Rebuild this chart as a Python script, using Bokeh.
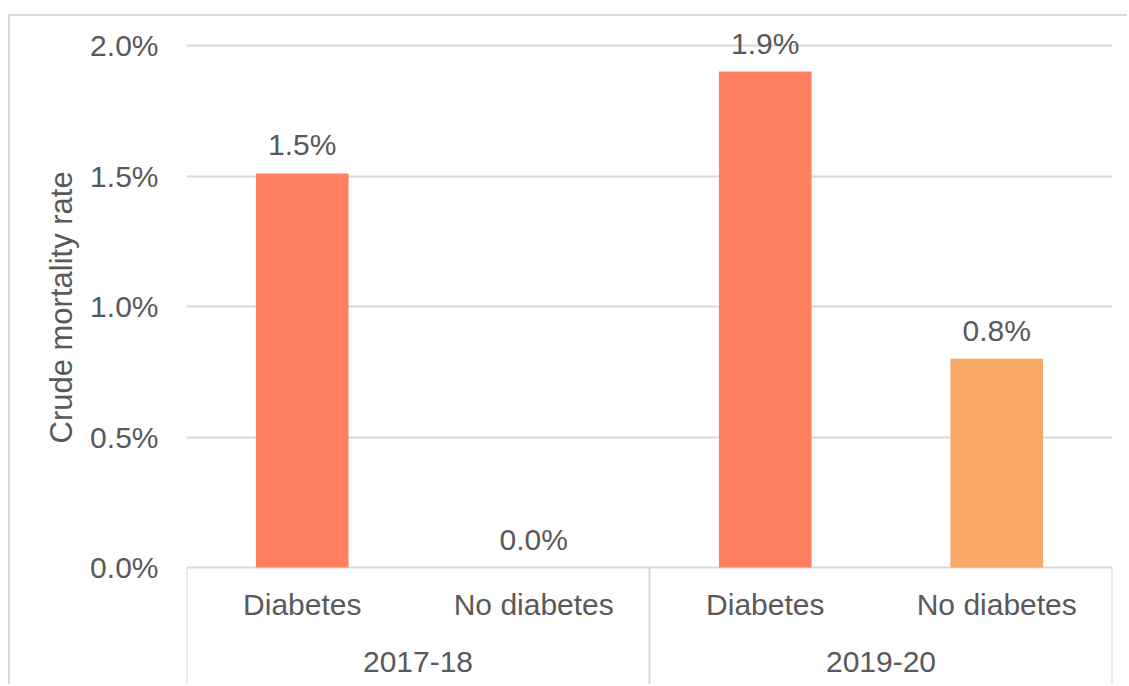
from bokeh.plotting import figure
from bokeh.models import (ColumnDataSource, FactorRange, FixedTicker, NumeralTickFormatter,
                          LabelSet, Range1d, Title)
from bokeh.core.properties import value
from bokeh.embed import file_html
from bokeh.resources import INLINE

# ---- data ----
periods = ["2017-18", "2017-18", "2019-20", "2019-20"]
groups = ["Diabetes", "No diabetes", "Diabetes", "No diabetes"]
rates = [0.0151, 0.0, 0.0190, 0.0080]
rate_labels = ["1.5%", "0.0%", "1.9%", "0.8%"]
bar_colors = ["#FF7F5F", "#FF7F5F", "#FF7F5F", "#F9A866"]
period_names = ["2017-18", "2019-20"]
y_ticks = [0.0, 0.005, 0.010, 0.015, 0.020]
y_title = "Crude mortality rate"

TEXT = "#595959"
GRID = "#D9D9D9"
FONT = "Liberation Sans"

factors = list(zip(periods, groups))
source = ColumnDataSource(dict(x=factors, top=rates, label=rate_labels, color=bar_colors))

PX = 26100.0  # pixels per unit of rate
x_range = FactorRange(*factors, range_padding=0, factor_padding=0, group_padding=0)
y_range = Range1d(-119 / PX, 0.02 + 29 / PX)

p = figure(width=1119, height=670, x_range=x_range, y_range=y_range,
           output_backend="svg", toolbar_location=None,
           min_border_left=176, min_border_right=17, min_border_top=0, min_border_bottom=0,
           margin=(14, 0, 0, 8),
           styles={"border-top": "2px solid #D9D9D9", "border-left": "2px solid #D9D9D9"})
p.outline_line_color = None
p.background_fill_color = "white"
p.border_fill_color = "white"
p.xaxis.visible = False

p.vbar(x="x", top="top", width=0.4, bottom=0, fill_color="color", line_color=None, source=source)

labels = LabelSet(x="x", y="top", text="label", source=source, y_offset=18,
                  text_align="center", text_baseline="alphabetic",
                  text_font=value(FONT), text_font_size="30px", text_color=TEXT)
p.add_layout(labels)

# category labels (two levels) under the zero line
sub_src = ColumnDataSource(dict(x=factors, y=[0] * len(factors), text=groups))
p.text(x="x", y="y", text="text", source=sub_src, y_offset=37,
       text_align="center", text_baseline="alphabetic",
       text_font=value(FONT), text_font_size="30px", text_color=TEXT)
grp_src = ColumnDataSource(dict(x=period_names, y=[0] * len(period_names), text=period_names))
p.text(x="x", y="y", text="text", source=grp_src, y_offset=94,
       text_align="center", text_baseline="alphabetic",
       text_font=value(FONT), text_font_size="30px", text_color=TEXT)

# category axis separators
sep_x = [(periods[0], groups[0], -0.5), (periods[2], groups[2], -0.5), (periods[3], groups[3], 0.5)]
p.segment(x0=sep_x, x1=sep_x, y0=[0] * 3, y1=[y_range.start] * 3, line_color=GRID, line_width=2)

# y axis
ya = p.yaxis[0]
ya.ticker = FixedTicker(ticks=y_ticks)
ya.formatter = NumeralTickFormatter(format="0.0%")
ya.axis_line_color = None
ya.major_tick_line_color = None
ya.minor_tick_line_color = None
ya.major_label_standoff = 22
ya.major_label_text_font = FONT
ya.major_label_text_font_size = "30px"
ya.major_label_text_color = TEXT

ytitle = Title(text=y_title, align="left", offset=243, standoff=18,
               text_font=FONT, text_font_size="31px", text_font_style="normal",
               text_color=TEXT)
p.add_layout(ytitle, "left")

p.ygrid.ticker = FixedTicker(ticks=y_ticks)
p.ygrid.grid_line_color = GRID
p.ygrid.grid_line_width = 2
p.xgrid.grid_line_color = None

with open("out.html", "w") as f:
    f.write(file_html(p, INLINE))
